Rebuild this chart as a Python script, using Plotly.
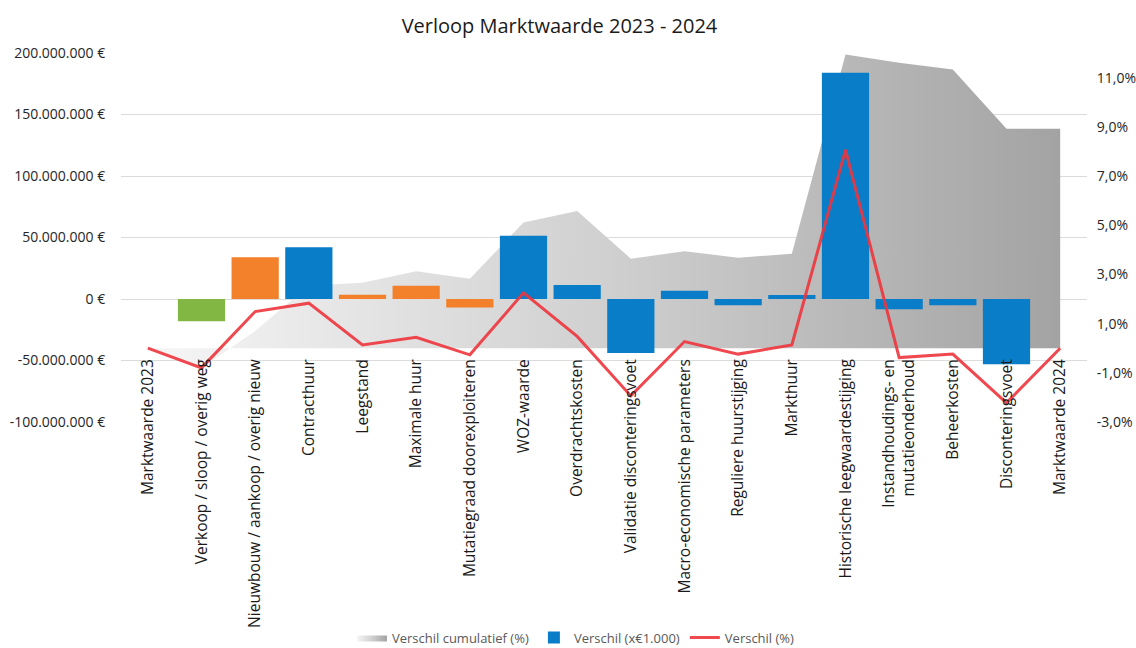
import plotly.graph_objects as go

categories = [
    "Marktwaarde 2023",
    "Verkoop / sloop / overig weg",
    "Nieuwbouw / aankoop / overig nieuw",
    "Contracthuur",
    "Leegstand",
    "Maximale huur",
    "Mutatiegraad doorexploiteren",
    "WOZ-waarde",
    "Overdrachtskosten",
    "Validatie disconteringsvoet",
    "Macro-economische parameters",
    "Reguliere huurstijging",
    "Markthuur",
    "Historische leegwaardestijging",
    "Instandhoudings- en<br>mutatieonderhoud",
    "Beheerkosten",
    "Disconteringsvoet",
    "Marktwaarde 2024",
]

# Verschil in euro (bars, left axis)
verschil_eur = [0, -18.0e6, 34.0e6, 42.0e6, 3.5e6, 10.8e6, -7.0e6, 51.5e6, 11.4e6,
                -44.0e6, 6.8e6, -5.0e6, 3.3e6, 184.0e6, -8.4e6, -5.0e6, -53.0e6, 0]

# Verschil (%) per stap (red line, right axis)
verschil_pct = [0.0, -0.80, 1.49, 1.83, 0.13, 0.44, -0.27, 2.25, 0.48,
                -1.94, 0.27, -0.24, 0.13, 8.06, -0.38, -0.24, -2.22, 0.0]

# Verschil cumulatief (%) (gray area, right axis)
verschil_cum = [0.0, -0.80, 0.70, 2.55, 2.66, 3.13, 2.82, 5.11, 5.58,
                3.64, 3.94, 3.68, 3.84, 11.94, 11.60, 11.33, 8.92, 8.92]

left_ticks = [-100e6, -50e6, 0, 50e6, 100e6, 150e6, 200e6]
right_ticks = [-3, -1, 1, 3, 5, 7, 9, 11]

BLUE = "#0a7dc8"
ORANGE = "#f3802b"
GREEN = "#82b743"
bar_colors = [BLUE, GREEN, ORANGE, BLUE, ORANGE, ORANGE, ORANGE, BLUE, BLUE,
              BLUE, BLUE, BLUE, BLUE, BLUE, BLUE, BLUE, BLUE, BLUE]

FONT = "Open Sans"


def fmt_eur(v):
    s = f"{abs(int(v)):,}".replace(",", ".")
    return ("-" if v < 0 else "") + s + " €"


def fmt_pct(v):
    return f"{v:.1f}".replace(".", ",") + "%"


fig = go.Figure()

fig.add_trace(go.Scatter(
    x=categories, y=verschil_cum, yaxis="y", name="Verschil cumulatief (%)",
    mode="lines", line=dict(width=0, color="#c8c8c8"), fill="tozeroy",
    fillcolor="#c8c8c8",
    fillgradient=dict(type="horizontal",
                      colorscale=[[0, "#f6f6f6"], [0.5, "#d0d0d0"], [1, "#a3a3a3"]]),
    hoverinfo="skip",
))

fig.add_trace(go.Bar(
    x=categories, y=verschil_eur, yaxis="y2", name="Verschil (x€1.000)",
    marker=dict(color=bar_colors, line=dict(width=0)), width=0.88,
))

fig.add_trace(go.Scatter(
    x=categories, y=verschil_pct, yaxis="y3", name="Verschil (%)",
    mode="lines", line=dict(color="rgba(238,52,60,0.9)", width=3),
))

fig.update_layout(
    width=1136, height=648,
    paper_bgcolor="white", plot_bgcolor="white",
    margin=dict(l=121, r=49, t=53, b=226, autoexpand=False),
    font=dict(family=FONT, size=14, color="#262626"),
    title=dict(text="Verloop Marktwaarde 2023 - 2024", x=0.4925, xref="container",
               xanchor="center", y=0.96, yref="container", yanchor="middle",
               font=dict(family=FONT, size=20, color="#1a1a1a")),
    showlegend=True,
    legend=dict(orientation="h", xref="container", x=0.507, xanchor="center",
                yref="container", y=0.016, yanchor="middle",
                font=dict(family=FONT, size=13, color="#595959"),
                traceorder="normal", itemwidth=30),
    xaxis=dict(type="category", range=[-0.5, 17.5], anchor="free",
               position=(422 - 348) / 369, tickangle=-90, showline=False,
               showgrid=False, zeroline=False, ticks="outside", ticklen=4,
               tickcolor="rgba(0,0,0,0)", automargin=False,
               tickfont=dict(family=FONT, size=15.5, color="#1a1a1a")),
    yaxis=dict(range=[-3, 12], side="right", tickvals=right_ticks,
               ticktext=[fmt_pct(v) for v in right_ticks], showgrid=False,
               zeroline=False, showline=False, ticks="outside", ticklen=6,
               tickcolor="rgba(0,0,0,0)", automargin=False,
               tickfont=dict(family=FONT, size=14, color="#262626")),
    yaxis2=dict(range=[-100e6, 200e6], overlaying="y", side="left",
                tickvals=left_ticks, ticktext=[fmt_eur(v) for v in left_ticks],
                showgrid=True, gridcolor="#dcdcdc", gridwidth=1,
                zeroline=True, zerolinecolor="#dcdcdc", zerolinewidth=1,
                showline=False, ticks="outside", ticklen=12,
                tickcolor="rgba(0,0,0,0)", automargin=False,
                tickfont=dict(family=FONT, size=14, color="#262626")),
    yaxis3=dict(range=[-3, 12], overlaying="y", visible=False, showgrid=False,
                zeroline=False),
)

fig.write_html(
    "out.html",
    config={"displayModeBar": False},
    post_script="document.body.style.margin='0';document.body.style.overflow='hidden';",
)
